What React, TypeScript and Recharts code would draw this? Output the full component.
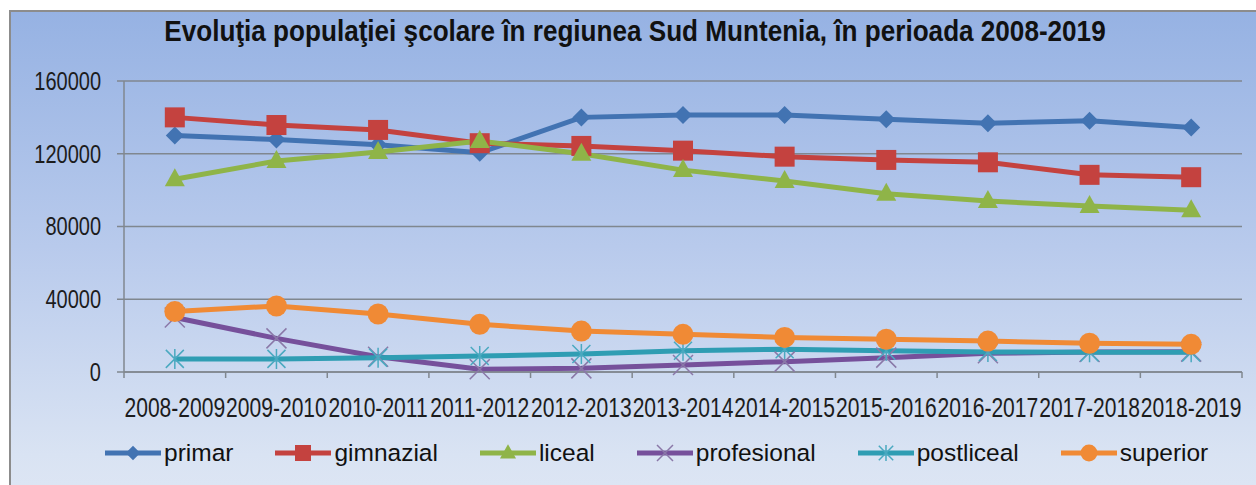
import { LineChart, Line, XAxis, YAxis, CartesianGrid, Legend } from "recharts";

const years = [
  "2008-2009", "2009-2010", "2010-2011", "2011-2012", "2012-2013", "2013-2014",
  "2014-2015", "2015-2016", "2016-2017", "2017-2018", "2018-2019",
];
const primar = [130000, 127800, 124900, 120500, 140000, 141300, 141300, 139000, 136800, 138200, 134400];
const gimnazial = [140000, 135800, 133100, 125800, 124300, 121700, 118400, 116600, 115300, 108400, 107100];
const liceal = [106000, 116000, 121000, 127000, 120000, 111000, 105000, 98000, 94000, 91300, 89000];
const profesional = [30000, 18500, 8400, 1500, 2000, 3900, 5700, 7900, 10300, 11000, 11200];
const postliceal = [7200, 7200, 7900, 8800, 9900, 11700, 12500, 11700, 11000, 10800, 10800];
const superior = [33200, 36300, 31900, 26200, 22500, 20700, 19000, 18000, 17000, 15800, 15200];
const yTicks = [0, 40000, 80000, 120000, 160000];

const data = years.map((y, i) => ({
  an: y,
  primar: primar[i],
  gimnazial: gimnazial[i],
  liceal: liceal[i],
  profesional: profesional[i],
  postliceal: postliceal[i],
  superior: superior[i],
}));

const FONT = "'Liberation Sans', Arial, sans-serif";
const AXIS = "#80878f";
const TEXT = "#1c1c1c";
const TICK_GAP = 26;

type Shape = "diamond" | "square" | "triangle" | "x" | "star" | "circle";

const series: { key: string; color: string; shape: Shape }[] = [
  { key: "primar", color: "#4273b2", shape: "diamond" },
  { key: "gimnazial", color: "#c4423f", shape: "square" },
  { key: "liceal", color: "#8fb448", shape: "triangle" },
  { key: "profesional", color: "#76509b", shape: "x" },
  { key: "postliceal", color: "#2f9db3", shape: "star" },
  { key: "superior", color: "#f08a35", shape: "circle" },
];

function marker(shape: Shape, cx: number, cy: number, color: string, s = 1) {
  switch (shape) {
    case "diamond":
      return <path d={`M${cx},${cy - 9 * s}L${cx + 9 * s},${cy}L${cx},${cy + 9 * s}L${cx - 9 * s},${cy}Z`} fill={color} />;
    case "square":
      return <rect x={cx - 10 * s} y={cy - 10 * s} width={20 * s} height={20 * s} fill={color} />;
    case "triangle":
      return <path d={`M${cx},${cy - 11 * s}L${cx + 10 * s},${cy + 7 * s}L${cx - 10 * s},${cy + 7 * s}Z`} fill={color} />;
    case "x":
      return (
        <path
          d={`M${cx - 10 * s},${cy - 10 * s}L${cx + 10 * s},${cy + 10 * s}M${cx + 10 * s},${cy - 10 * s}L${cx - 10 * s},${cy + 10 * s}`}
          stroke="#8a78a8"
          strokeWidth={1.5}
        />
      );
    case "star":
      return (
        <path
          d={`M${cx - 9 * s},${cy - 9 * s}L${cx + 9 * s},${cy + 9 * s}M${cx + 9 * s},${cy - 9 * s}L${cx - 9 * s},${cy + 9 * s}M${cx},${cy - 10 * s}L${cx},${cy + 10 * s}`}
          stroke="#4aa9c0"
          strokeWidth={1.5}
        />
      );
    default:
      return <circle cx={cx} cy={cy} r={10.5 * s} fill={color} />;
  }
}

// eslint-disable-next-line @typescript-eslint/no-explicit-any
function XTick({ x, y, payload, width, visibleTicksCount, index }: any) {
  const band = width / visibleTicksCount;
  const top = y - TICK_GAP;
  return (
    <g>
      <line x1={x - band / 2} x2={x - band / 2} y1={top} y2={top + 6} stroke={AXIS} strokeWidth={1.5} />
      {index === visibleTicksCount - 1 && (
        <line x1={x + band / 2} x2={x + band / 2} y1={top} y2={top + 6} stroke={AXIS} strokeWidth={1.5} />
      )}
      <text
        transform={`translate(${x},${y}) scale(0.78,1)`}
        dy="0.71em"
        textAnchor="middle"
        fill={TEXT}
        fontSize={27}
        fontFamily={FONT}
      >
        {payload.value}
      </text>
    </g>
  );
}

// eslint-disable-next-line @typescript-eslint/no-explicit-any
function YTick({ x, y, payload }: any) {
  return (
    <text
      transform={`translate(${x},${y}) scale(0.8,1)`}
      dy="0.355em"
      textAnchor="end"
      fill={TEXT}
      fontSize={25}
      fontFamily={FONT}
    >
      {payload.value}
    </text>
  );
}

function LegendContent() {
  return (
    <div
      style={{
        display: "flex",
        alignItems: "center",
        paddingLeft: 105,
        gap: 42,
        fontFamily: FONT,
        fontSize: 24.5,
        color: "#111",
        height: 36,
      }}
    >
      {series.map((s) => (
        <div key={s.key} style={{ display: "flex", alignItems: "center" }}>
          <svg width={56} height={24} style={{ marginRight: 3 }}>
            <line x1={0} x2={56} y1={12} y2={12} stroke={s.color} strokeWidth={5} />
            {marker(s.shape, 28, 12, s.color, 0.8)}
          </svg>
          <span>{s.key}</span>
        </div>
      ))}
    </div>
  );
}

export default function App() {
  return (
    <div style={{ position: "fixed", inset: 0, overflow: "hidden", background: "#fff" }}>
      <div
        style={{
          position: "absolute",
          left: 9,
          top: 10,
          width: 1300,
          height: 520,
          borderLeft: "2px solid #8c8c8c",
          borderTop: "2px solid #8c8c8c",
          background: "linear-gradient(180deg, #96b2e3 0%, #b8caec 45%, #d9e3f3 85%, #e1e8f5 100%)",
        }}
      />
      <div
        style={{
          position: "absolute",
          left: 0,
          width: 1270,
          top: 14,
          textAlign: "center",
          fontFamily: FONT,
          fontWeight: "bold",
          fontSize: 30,
          color: "#111",
          transform: "scaleX(0.87)",
          transformOrigin: "635px 0",
        }}
      >
        Evoluţia populaţiei şcolare în regiunea Sud Muntenia, în perioada 2008-2019
      </div>
      <div style={{ position: "absolute", left: 0, top: 0 }}>
        <LineChart width={1256} height={485} data={data} margin={{ top: 81, right: 14, bottom: 14, left: 0 }}>
          <CartesianGrid vertical={false} stroke={AXIS} strokeWidth={1.5} />
          <XAxis
            dataKey="an"
            scale="band"
            axisLine={{ stroke: AXIS, strokeWidth: 1.5 }}
            tickLine={false}
            tickSize={0}
            tickMargin={TICK_GAP}
            height={63}
            interval={0}
            tick={<XTick />}
          />
          <YAxis
            domain={[0, 160000]}
            ticks={yTicks}
            width={124}
            axisLine={{ stroke: AXIS, strokeWidth: 1.5 }}
            tickLine={{ stroke: AXIS, strokeWidth: 1.5 }}
            tickSize={7}
            tickMargin={16}
            tick={<YTick />}
          />
          <Legend verticalAlign="bottom" height={36} content={<LegendContent />} />
          {series.map((s) => (
            <Line
              key={s.key}
              dataKey={s.key}
              type="linear"
              stroke={s.color}
              strokeWidth={5}
              isAnimationActive={false}
              // eslint-disable-next-line @typescript-eslint/no-explicit-any
              dot={(p: any) => <g key={`${s.key}-${p.index}`}>{marker(s.shape, p.cx, p.cy, s.color)}</g>}
            />
          ))}
        </LineChart>
      </div>
    </div>
  );
}
